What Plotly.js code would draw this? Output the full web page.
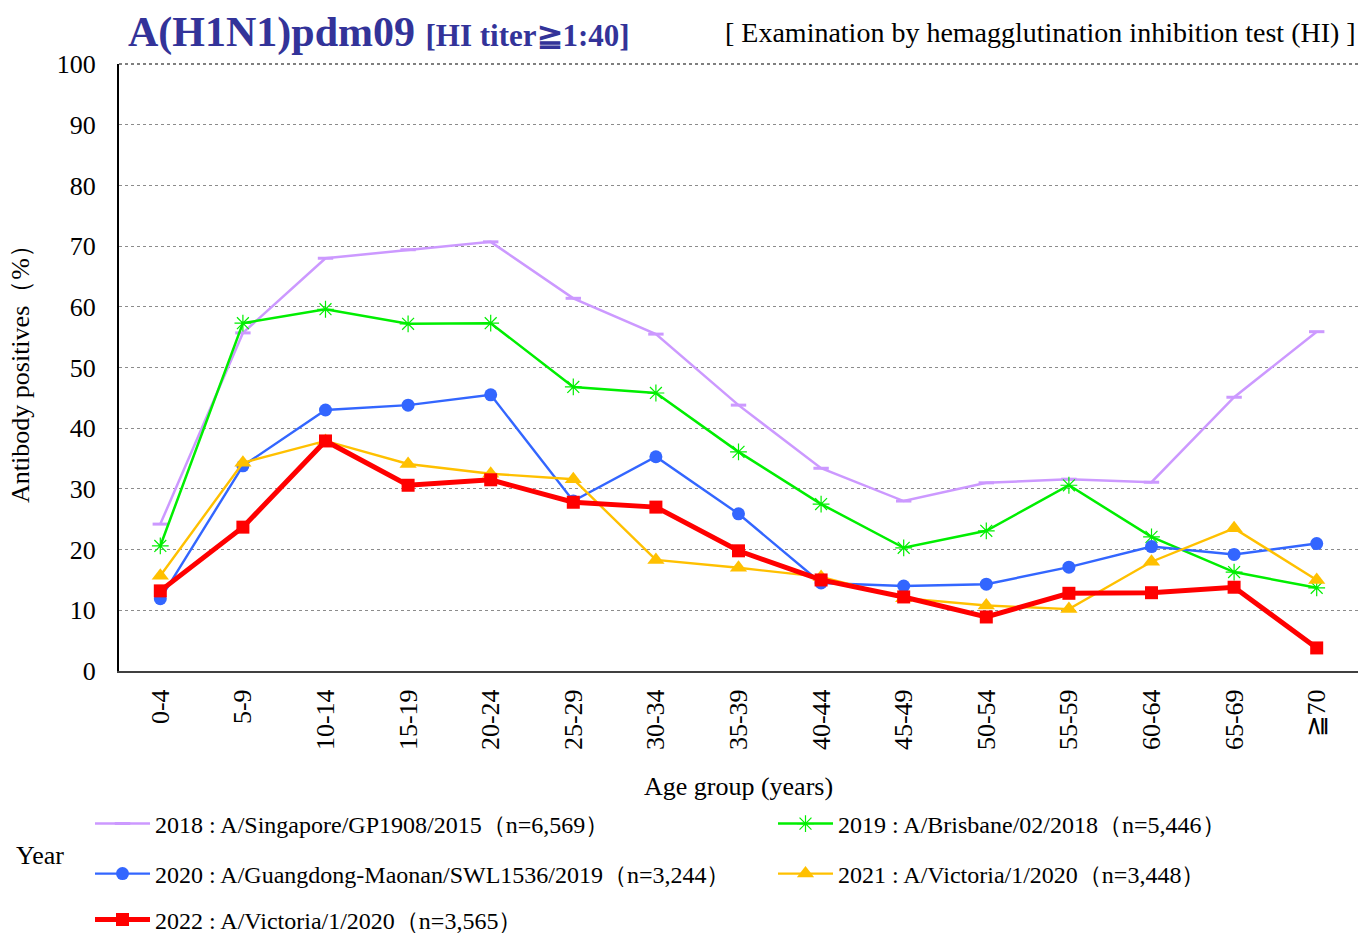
<!DOCTYPE html>
<html>
<head>
<meta charset="utf-8">
<script src="https://cdn.plot.ly/plotly-3.0.1.min.js"></script>
<style>html,body{margin:0;padding:0;background:#fff;}#chart{width:1359px;height:936px;}</style>
</head>
<body>
<div id="chart"></div>
<script>
const ageGroups = ["0-4","5-9","10-14","15-19","20-24","25-29","30-34","35-39","40-44","45-49","50-54","55-59","60-64","65-69","≧70"];

const v2018 = [24.2, 55.7, 68.0, 69.4, 70.7, 61.4, 55.5, 43.8, 33.4, 28.0, 31.0, 31.6, 31.1, 45.1, 55.9];
const v2019 = [20.6, 57.3, 59.6, 57.2, 57.3, 46.8, 45.8, 36.1, 27.5, 20.3, 23.1, 30.6, 22.1, 16.3, 13.7];
const v2020 = [11.9, 33.8, 43.0, 43.8, 45.5, 28.0, 35.3, 25.9, 14.5, 14.0, 14.3, 17.1, 20.5, 19.2, 21.0];
const v2021 = [15.7, 34.3, 37.9, 34.1, 32.5, 31.6, 18.3, 17.0, 15.5, 12.0, 10.8, 10.2, 18.0, 23.5, 15.0];
const v2022 = [13.2, 23.7, 37.9, 30.6, 31.5, 27.8, 27.0, 19.8, 15.0, 12.2, 8.9, 12.8, 12.9, 13.8, 3.8];

const seriesNames = [
  "2018 : A/Singapore/GP1908/2015（n=6,569）",
  "2019 : A/Brisbane/02/2018（n=5,446）",
  "2020 : A/Guangdong-Maonan/SWL1536/2019（n=3,244）",
  "2021 : A/Victoria/1/2020（n=3,448）",
  "2022 : A/Victoria/1/2020（n=3,565）"
];

const FONT = "Liberation Serif, Times New Roman, serif";
const W = 1359, H = 936;
const PL = 119, PR = 1, PT = 64, PB = 265;
const PW = W - PL - PR, PH = H - PT - PB;

const traces = [
  {x: ageGroups, y: v2018, name: seriesNames[0], legend: "legend", mode: "lines+markers",
   line: {color: "#CC99FF", width: 2.5},
   marker: {symbol: "line-ew-open", size: 11, color: "#CC99FF", line: {color: "#CC99FF", width: 3}}},
  {x: ageGroups, y: v2019, name: seriesNames[1], legend: "legend2", mode: "lines+markers",
   line: {color: "#00EE00", width: 2.5},
   marker: {symbol: "asterisk-open", size: 14, color: "#00EE00", line: {color: "#00EE00", width: 1.2}}},
  {x: ageGroups, y: v2020, name: seriesNames[2], legend: "legend3", mode: "lines+markers",
   line: {color: "#3366FF", width: 2.4},
   marker: {symbol: "circle", size: 13, color: "#3366FF"}},
  {x: ageGroups, y: v2021, name: seriesNames[3], legend: "legend4", mode: "lines+markers",
   line: {color: "#FFC000", width: 2.4},
   marker: {symbol: "triangle-up", size: 15, color: "#FFC000"}},
  {x: ageGroups, y: v2022, name: seriesNames[4], legend: "legend5", mode: "lines+markers",
   line: {color: "#FF0000", width: 5},
   marker: {symbol: "square", size: 13, color: "#FF0000"}}
];

function lg(px, py) {
  return {x: px / W, y: 1 - py / H, xref: "container", yref: "container",
          xanchor: "left", yanchor: "middle", orientation: "h",
          bgcolor: "rgba(0,0,0,0)", borderwidth: 0, itemwidth: 55,
          font: {family: FONT, size: 24, color: "#000"}};
}

const layout = {
  width: W, height: H,
  margin: {l: PL, r: PR, t: PT, b: PB, autoexpand: false},
  paper_bgcolor: "#fff", plot_bgcolor: "#fff",
  font: {family: FONT, color: "#000"},
  showlegend: true,
  xaxis: {
    type: "category", range: [-0.5, 14.5],
    tickangle: -90, ticks: "", showgrid: false,
    showline: true, linecolor: "#404040", linewidth: 2,
    ticklabelstandoff: 6,
    tickfont: {family: FONT, size: 26, color: "#000"},
    title: {text: "Age group (years)", font: {family: FONT, size: 26, color: "#000"}, standoff: 30},
    zeroline: false
  },
  yaxis: {
    range: [0, 100], dtick: 10, tick0: 0,
    showgrid: true, gridcolor: "#8c8c8c", griddash: "dot", gridwidth: 1,
    showline: true, linecolor: "#000", linewidth: 2,
    ticks: "", ticklabelstandoff: 16,
    tickfont: {family: FONT, size: 26, color: "#000"},
    title: {text: "Antibody positives（%）", font: {family: FONT, size: 26, color: "#000"}, standoff: 20},
    zeroline: false
  },
  legend: lg(90, 824),
  legend2: lg(773, 824),
  legend3: lg(90, 874),
  legend4: lg(773, 874),
  legend5: lg(90, 920),
  shapes: [
    {type: "line", xref: "paper", yref: "paper", x0: 0, x1: 1, y0: 1, y1: 1,
     line: {color: "#555", width: 1.5, dash: "dot"}}
  ],
  annotations: [
    {xref: "paper", yref: "paper", x: (126 - PL) / PW, y: 1 + (PT - 33) / PH, xanchor: "left", yanchor: "middle", showarrow: false,
     text: "<b>A(H1N1)pdm09</b> <b><span style='font-size:31px'>[HI titer≧1:40]</span></b>",
     font: {family: FONT, size: 42, color: "#333399"}},
    {xref: "paper", yref: "paper", x: 1, y: 1 + (PT - 32) / PH, xanchor: "right", yanchor: "middle", showarrow: false,
     text: "[ Examination by hemagglutination inhibition test (HI) ]",
     font: {family: FONT, size: 28, color: "#000"}},
    {xref: "paper", yref: "paper", x: (14 - PL) / PW, y: -(856 - (H - PB)) / PH, xanchor: "left", yanchor: "middle", showarrow: false,
     text: "Year", font: {family: FONT, size: 26, color: "#000"}}
  ]
};

Plotly.newPlot("chart", traces, layout, {displayModeBar: false, staticPlot: true});
</script>
</body>
</html>
